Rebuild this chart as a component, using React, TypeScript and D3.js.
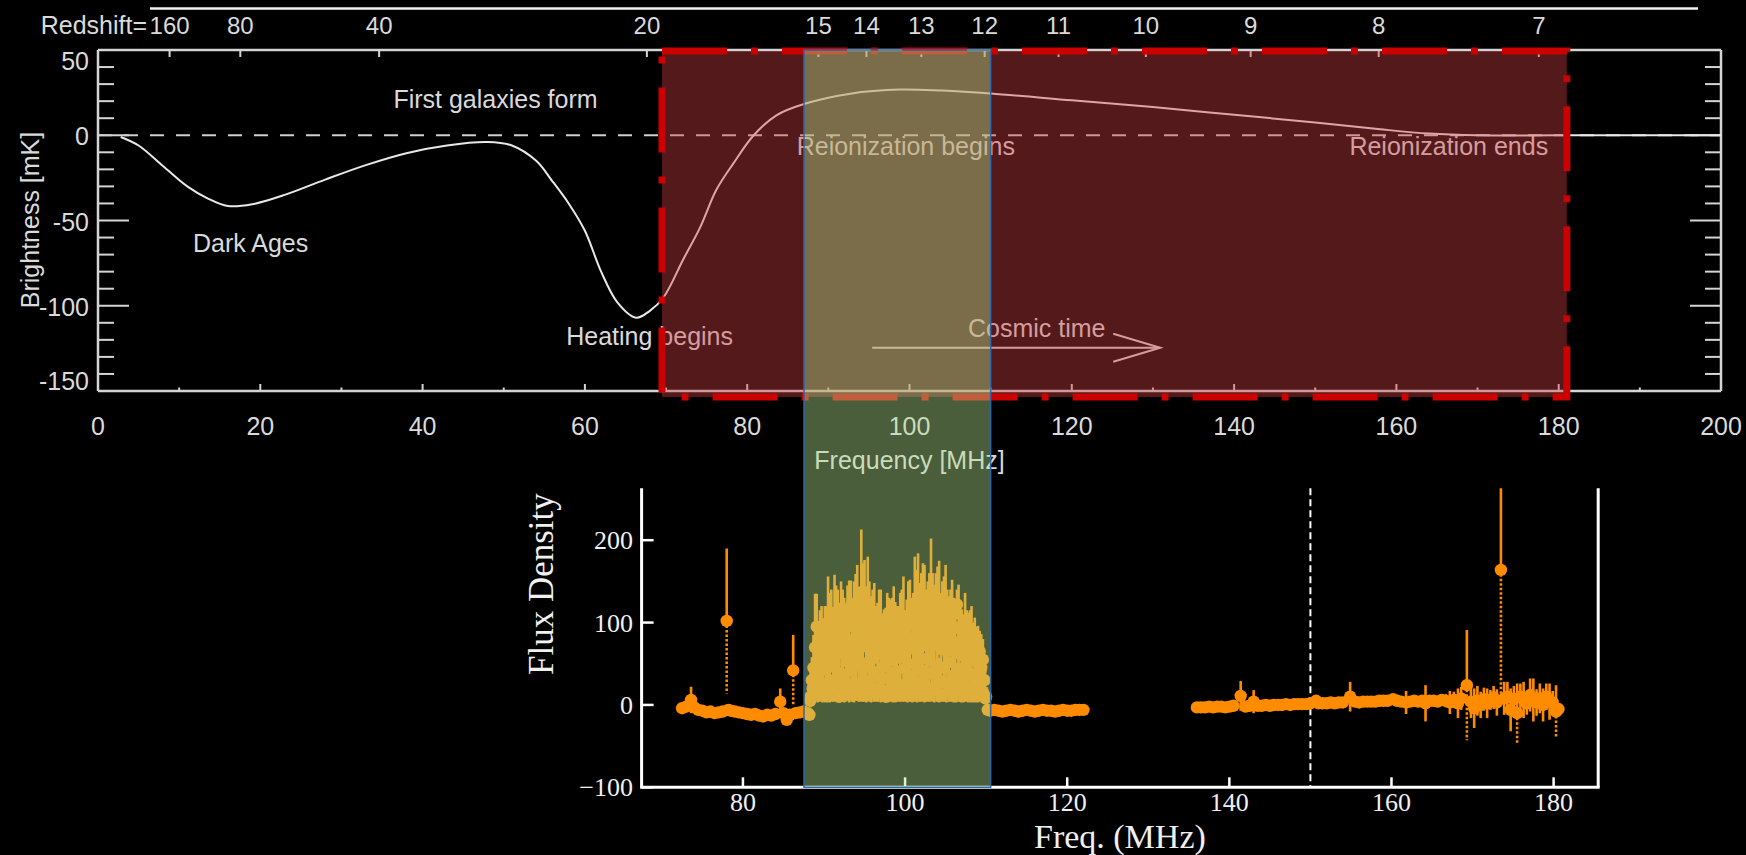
import React from "react";
import * as d3 from "d3";

const W = 1746;
const H = 855;

// ---------- upper panel: global 21-cm signal ----------
const freqTicks = [0, 20, 40, 60, 80, 100, 120, 140, 160, 180, 200];
const freqMinorTicks = [10, 30, 50, 70, 90, 110, 130, 150, 170, 190];
const brightTicks = [50, 0, -50, -100, -150];
const brightMinorTicks = [40, 30, 20, 10, -10, -20, -30, -40, -60, -70, -80, -90, -110, -120, -130, -140];
const redshiftTicks = [160, 80, 40, 20, 15, 14, 13, 12, 11, 10, 9, 8, 7];
const HI_REST_MHZ = 1420.4;

const signalFreq = [2.8, 5, 8, 11, 13.5, 16, 19, 23, 28, 33, 38, 43, 48, 51, 54, 56, 58, 60, 62, 64, 66.3, 68, 69.7, 72.1, 74.2, 76.2, 78.3, 80.8, 83.6, 87.2, 92.7, 98.8, 104, 110, 120, 130, 140, 150, 158, 164, 170, 185, 200];
const signalTemp = [-1, -6, -18, -30, -37, -41.5, -40.5, -35, -26, -17.5, -10.5, -6, -4, -6, -15, -27, -40, -56, -80, -98, -107, -103, -95, -73, -54, -32, -16.5, 0, 11.7, 18.6, 24.4, 26.8, 26.2, 24.5, 20.5, 16.5, 12, 7.5, 3.5, 1, 0, 0, 0];

// annotations in data units (MHz, mK)
const phaseLabels: { text: string; f: number; t: number; anchor: "start" | "end" }[] = [
  { text: "First galaxies form", f: 36.4, t: 15.7, anchor: "start" },
  { text: "Dark Ages", f: 11.7, t: -68.2, anchor: "start" },
  { text: "Heating begins", f: 57.7, t: -123, anchor: "start" },
  { text: "Reionization begins", f: 86.1, t: -11.6, anchor: "start" },
  { text: "Reionization ends", f: 178.7, t: -11.6, anchor: "end" },
  { text: "Cosmic time", f: 107.2, t: -118.3, anchor: "start" },
];
const cosmicArrow = { fFrom: 95.4, fTo: 130.9, t: -124.6 };

// EoR window and FM band
const eorWindow = { fLo: 69.5, fHi: 181, tLo: -153.5, tHi: 49.4 };
const fmBand = { fLo: 87, fHi: 110 };

// ---------- lower panel: measured flux density ----------
const fluxYTicks = [200, 100, 0, -100];
const fluxXTicks = [80, 100, 120, 140, 160, 180];
const refLineMHz = 150;

// [freq MHz, flux, error]
const belowFm: [number, number, number][] = [
  [72.5, -4, 3], [73.0, -2, 4], [73.6, 6, 16], [74.0, -3, 4], [74.5, -6, 3], [75.0, -7, 3], [75.5, -9, 3],
  [76.0, -8, 3], [76.5, -10, 3], [77.0, -9, 4], [77.5, -8, 3], [78.0, 102, 88], [78.2, -6, 3], [78.5, -7, 3],
  [79.0, -8, 3], [79.5, -9, 3], [80.0, -10, 4], [80.5, -11, 3], [81.0, -12, 3], [81.5, -11, 3], [82.0, -13, 4],
  [82.5, -14, 3], [83.0, -12, 4], [83.5, -13, 3], [84.0, -11, 3], [84.6, 4, 16], [85.0, -10, 4], [85.4, -18, 6],
  [85.8, -12, 4], [86.2, 42, 43], [86.5, -10, 4], [87.0, -9, 3], [87.5, -8, 3], [88.0, -10, 3],
];

const inFm: [number, number, number][] = [
  [88.2, -12, 4], [88.35, 10, 12], [88.5, 30, 28], [88.7, 45, 40], [88.9, 70, 65], [89.1, 95, 40], [89.3, 50, 46],
  [89.5, 60, 55], [89.7, 80, 40], [89.9, 55, 50], [90.1, 85, 35], [90.3, 62, 58], [90.5, 100, 56], [90.7, 70, 66],
  [90.9, 90, 50], [91.1, 58, 54], [91.3, 112, 46], [91.5, 75, 70], [91.7, 95, 45], [91.9, 64, 60], [92.1, 105, 45],
  [92.3, 72, 68], [92.5, 88, 42], [92.7, 60, 56], [92.9, 110, 35], [93.1, 78, 73], [93.3, 120, 31], [93.5, 66, 62],
  [93.7, 95, 55], [93.9, 82, 77], [94.1, 125, 45], [94.3, 70, 66], [94.6, 137, 76], [94.8, 88, 84], [95.0, 120, 56],
  [95.2, 74, 70], [95.4, 110, 70], [95.6, 90, 60], [95.8, 68, 64], [96.0, 100, 40], [96.2, 76, 72], [96.4, 85, 35],
  [96.6, 64, 60], [96.8, 105, 35], [97.0, 72, 68], [97.2, 80, 30], [97.4, 60, 56], [97.6, 90, 28], [97.8, 70, 66],
  [98.0, 96, 34], [98.2, 66, 62], [98.4, 100, 30], [98.6, 74, 70], [98.8, 92, 33], [99.0, 62, 58], [99.2, 85, 35],
  [99.4, 70, 66], [99.6, 105, 35], [99.8, 80, 76], [100.0, 88, 27], [100.2, 66, 62], [100.4, 95, 55], [100.6, 78, 74],
  [100.8, 110, 20], [101.0, 70, 66], [101.2, 115, 65], [101.4, 84, 80], [101.6, 120, 64], [101.8, 76, 72],
  [102.0, 105, 55], [102.2, 88, 84], [102.4, 118, 52], [102.6, 72, 68], [102.8, 110, 40], [103.0, 82, 78],
  [103.2, 125, 77], [103.4, 94, 66], [103.6, 75, 71], [103.8, 115, 45], [104.0, 86, 82], [104.2, 118, 57],
  [104.4, 70, 66], [104.6, 105, 45], [104.8, 80, 76], [105.0, 112, 58], [105.2, 90, 50], [105.4, 68, 64],
  [105.6, 100, 40], [105.8, 78, 74], [106.0, 95, 35], [106.2, 64, 60], [106.4, 122, 18], [106.6, 75, 71],
  [106.8, 92, 28], [107.0, 60, 56], [107.2, 85, 25], [107.4, 70, 66], [107.6, 88, 27], [107.8, 58, 54],
  [108.0, 80, 35], [108.2, 62, 58], [108.4, 75, 25], [108.6, 55, 51], [108.8, 70, 25], [109.0, 50, 46],
  [109.2, 65, 25], [109.4, 45, 41], [109.6, 55, 25], [109.8, 30, 28], [110.0, 10, 12], [110.2, -6, 4],
];

// weaker channels inside the FM band
const inFmLow: [number, number, number][] = [
  [88.3, 5, 8], [88.6, 20, 18], [88.9, 35, 30], [89.2, 15, 12], [89.5, 40, 36], [89.8, 25, 22], [90.1, 12, 9],
  [90.4, 45, 42], [90.7, 30, 27], [91.0, 18, 14], [91.3, 50, 46], [91.6, 28, 25], [91.9, 10, 7], [92.2, 38, 34],
  [92.5, 22, 19], [92.8, 55, 50], [93.1, 14, 11], [93.4, 42, 38], [93.7, 26, 23], [94.0, 60, 55], [94.3, 16, 12],
  [94.6, 48, 44], [94.9, 30, 26], [95.2, 12, 9], [95.5, 52, 48], [95.8, 24, 21], [96.1, 40, 36], [96.4, 15, 11],
  [96.7, 35, 31], [97.0, 20, 17], [97.3, 46, 42], [97.6, 10, 7], [97.9, 32, 29], [98.2, 54, 50], [98.5, 18, 15],
  [98.8, 40, 37], [99.1, 26, 22], [99.4, 58, 54], [99.7, 14, 10], [100.0, 44, 40], [100.3, 22, 19], [100.6, 36, 32],
  [100.9, 12, 9], [101.2, 50, 46], [101.5, 28, 25], [101.8, 16, 12], [102.1, 42, 38], [102.4, 24, 21],
  [102.7, 56, 52], [103.0, 14, 10], [103.3, 38, 34], [103.6, 20, 17], [103.9, 48, 44], [104.2, 30, 27],
  [104.5, 12, 8], [104.8, 45, 41], [105.1, 26, 23], [105.4, 52, 48], [105.7, 18, 14], [106.0, 36, 33],
  [106.3, 22, 19], [106.6, 44, 40], [106.9, 14, 11], [107.2, 32, 29], [107.5, 48, 44], [107.8, 20, 17],
  [108.1, 38, 35], [108.4, 12, 9], [108.7, 30, 27], [109.0, 22, 19], [109.3, 40, 36], [109.6, 16, 13], [109.9, 8, 6],
];

const aboveFm: [number, number, number][] = [
  [110.5, -7, 3], [111.0, -6, 3], [111.5, -7, 3], [112.0, -8, 3], [112.5, -7, 3], [113.0, -6, 3], [113.5, -7, 3],
  [114.0, -8, 3], [114.5, -7, 3], [115.0, -6, 3], [115.5, -7, 3], [116.0, -8, 3], [116.5, -7, 3], [117.0, -6, 3],
  [117.5, -7, 3], [118.0, -7, 3], [118.5, -8, 3], [119.0, -7, 3], [119.5, -6, 3], [120.0, -7, 3], [120.5, -7, 3],
  [121.0, -6, 3], [121.5, -6, 3], [122.0, -6, 3],
];

const highBand: [number, number, number][] = [
  [136.0, -3, 3], [136.5, -3, 3], [137.0, -3, 3], [137.5, -2, 3], [138.0, -3, 3], [138.5, -2, 3], [139.0, -2, 3],
  [139.5, -3, 3], [140.0, -2, 3], [140.5, -1, 3], [141.4, 11, 18], [142.0, -2, 3], [142.5, -1, 3], [143.0, 4, 14],
  [143.5, -1, 3], [144.0, -1, 3], [144.5, 0, 3], [145.0, -1, 3], [145.5, 0, 3], [146.0, 0, 3], [146.5, 0, 3],
  [147.0, 1, 3], [147.5, 0, 3], [148.0, 1, 3], [148.5, 1, 3], [149.0, 1, 3], [149.5, 1, 3], [150.0, 2, 3],
  [150.7, 5, 6], [151.0, 2, 3], [151.5, 2, 3], [152.0, 2, 3], [152.5, 3, 3], [153.0, 2, 3], [153.5, 3, 3],
  [154.0, 3, 3], [154.9, 10, 18], [155.5, 4, 4], [156.0, 3, 3], [156.5, 4, 3], [157.0, 4, 3], [157.5, 4, 3],
  [158.0, 4, 3], [158.5, 5, 3], [159.0, 5, 3], [159.5, 5, 4], [160.2, 7, 4], [160.7, 5, 3], [161.2, 4, 4],
  [161.8, 3, 14], [162.3, 4, 3], [162.8, 5, 4], [163.3, 4, 3], [163.8, 5, 4], [164.2, 2, 22], [164.7, 5, 4],
  [165.2, 5, 5], [165.7, 4, 4], [166.2, 6, 6], [166.7, 5, 8], [167.2, 3, 14], [167.7, 6, 10], [168.2, 2, 18],
  [168.6, 8, 14], [169.3, 24, 67], [169.8, 4, 20], [170.2, -4, 24], [170.6, 5, 18], [171.0, 0, 16],
  [171.4, 7, 14], [171.8, 2, 18], [172.2, 6, 12], [172.6, 9, 14], [173.0, 3, 16], [173.5, 164, 158],
  [173.9, 8, 20], [174.3, 10, 18], [174.7, -6, 26], [175.1, 7, 16], [175.5, -10, 36], [175.9, 10, 16],
  [176.3, 6, 22], [176.7, 2, 14], [177.1, 12, 20], [177.5, 6, 26], [177.9, 3, 16], [178.3, 8, 18],
  [178.7, 0, 20], [179.1, 10, 16], [179.5, 4, 22], [179.9, 3, 14], [180.3, -8, 32], [180.6, -5, 5],
];

const SANS = "'Liberation Sans', Arial, Helvetica, sans-serif";
const SERIF = "'Liberation Serif', 'Times New Roman', serif";
const TEXT_GREY = "#dadada";
const AXIS_GREY = "#d4d4d4";
const ORANGE = "#ff8c00";

export default function App() {
  // upper panel scales
  const xT = d3.scaleLinear().domain([0, 200]).range([98, 1721]);
  const yT = d3.scaleLinear().domain([-150, 50]).range([391, 50]);
  // lower panel scales
  const xB = d3.scaleLinear().domain([67.5, 185.5]).range([641.6, 1598.2]);
  const yB = d3.scaleLinear().domain([-100, 263]).range([787.3, 488.3]);

  const signalPts = signalFreq.map((f, i) => [f, signalTemp[i]] as [number, number]);
  const signalPath = d3
    .line<[number, number]>()
    .x((d) => xT(d[0]))
    .y((d) => yT(d[1]))
    .curve(d3.curveCatmullRom.alpha(0.5))(signalPts) as string;

  const [tx0, tx1] = xT.range();
  const [ty0, ty1] = [yT(50), yT(-150)];
  const majLen = 31;
  const minLen = 16;

  const yLabelBaseline = (v: number) =>
    Math.min(Math.max(yT(v) + 10, yT(50) + 20), yT(-150) - 1);

  const arrowY = yT(cosmicArrow.t);
  const arrowX1 = xT(cosmicArrow.fTo);

  const bx0 = xB(67.5);
  const bx1 = xB(185.5);
  const by0 = yB(263);
  const by1 = yB(-100);

  const segments: { pts: [number, number, number][]; dashedLow: boolean }[] = [
    { pts: belowFm, dashedLow: true },
    { pts: inFm, dashedLow: false },
    { pts: inFmLow, dashedLow: false },
    { pts: aboveFm, dashedLow: true },
    { pts: highBand, dashedLow: true },
  ];

  return (
    <svg
      width={W}
      height={H}
      viewBox={`0 0 ${W} ${H}`}
      style={{ position: "absolute", left: 0, top: 0, display: "block" }}
    >
      <defs>
        <clipPath id="fluxClip">
          <rect x={bx0} y={by0} width={bx1 - bx0} height={by1 - by0} />
        </clipPath>
      </defs>
      <rect x={0} y={0} width={W} height={H} fill="#000" />

      {/* strip above the redshift axis */}
      <line x1={150} x2={1698} y1={8.5} y2={8.5} stroke="#f2f2f2" strokeWidth={2.5} />

      {/* ---------------- upper panel ---------------- */}
      <g stroke={AXIS_GREY} strokeWidth={2.5} fill="none">
        <line x1={tx0} x2={tx1} y1={ty0} y2={ty0} />
        <line x1={tx0} x2={tx1} y1={ty1} y2={ty1} />
        <line x1={tx0} x2={tx0} y1={ty0} y2={ty1} />
        <line x1={tx1} x2={tx1} y1={ty0} y2={ty1} />
      </g>
      <g stroke={AXIS_GREY} strokeWidth={2}>
        {brightTicks.map((v) => (
          <g key={`yt${v}`}>
            <line x1={tx0} x2={tx0 + majLen} y1={yT(v)} y2={yT(v)} />
            <line x1={tx1} x2={tx1 - majLen} y1={yT(v)} y2={yT(v)} />
          </g>
        ))}
        {brightMinorTicks.map((v) => (
          <g key={`ym${v}`}>
            <line x1={tx0} x2={tx0 + minLen} y1={yT(v)} y2={yT(v)} />
            <line x1={tx1} x2={tx1 - minLen} y1={yT(v)} y2={yT(v)} />
          </g>
        ))}
        {freqTicks.map((f) => (
          <line key={`xt${f}`} x1={xT(f)} x2={xT(f)} y1={ty1} y2={ty1 - 7} />
        ))}
        {freqMinorTicks.map((f) => (
          <line key={`xm${f}`} x1={xT(f)} x2={xT(f)} y1={ty1} y2={ty1 - 3.5} />
        ))}
        {redshiftTicks.map((z) => (
          <line
            key={`zt${z}`}
            x1={xT(HI_REST_MHZ / (1 + z))}
            x2={xT(HI_REST_MHZ / (1 + z))}
            y1={ty0}
            y2={ty0 + 7}
          />
        ))}
      </g>

      <g fill={TEXT_GREY} fontFamily={SANS} fontSize={25}>
        {brightTicks.map((v) => (
          <text key={`yl${v}`} x={89} y={yLabelBaseline(v)} textAnchor="end">
            {String(v)}
          </text>
        ))}
        {freqTicks.map((f) => (
          <text key={`xl${f}`} x={xT(f)} y={435} textAnchor="middle">
            {String(f)}
          </text>
        ))}
        {redshiftTicks.map((z) => (
          <text key={`zl${z}`} x={xT(HI_REST_MHZ / (1 + z))} y={33.5} textAnchor="middle" fontSize={24}>
            {String(z)}
          </text>
        ))}
        <text x={147} y={33.5} textAnchor="end" fontSize={25}>
          Redshift=
        </text>
        <text x={xT(100)} y={468.5} textAnchor="middle">
          Frequency [MHz]
        </text>
        <text transform={`translate(39, 220) rotate(-90)`} textAnchor="middle" fontSize={25}>
          Brightness [mK]
        </text>
        {phaseLabels.map((p) => (
          <text key={p.text} x={xT(p.f)} y={yT(p.t)} textAnchor={p.anchor}>
            {p.text}
          </text>
        ))}
      </g>

      {/* zero-brightness reference */}
      <line
        x1={tx0}
        x2={tx1}
        y1={yT(0)}
        y2={yT(0)}
        stroke="#cfcfcf"
        strokeWidth={2.2}
        strokeDasharray="14 12"
      />
      {/* global signal */}
      <path d={signalPath} fill="none" stroke="#e8e8e8" strokeWidth={2} />

      {/* cosmic time arrow */}
      <g stroke={TEXT_GREY} strokeWidth={2} fill="none">
        <line x1={xT(cosmicArrow.fFrom)} x2={arrowX1} y1={arrowY} y2={arrowY} />
        <polyline points={`${arrowX1 - 47},${arrowY - 14} ${arrowX1},${arrowY} ${arrowX1 - 47},${arrowY + 14}`} />
      </g>

      {/* epoch-of-reionization window */}
      <rect
        x={xT(eorWindow.fLo)}
        y={yT(eorWindow.tHi)}
        width={xT(eorWindow.fHi) - xT(eorWindow.fLo)}
        height={yT(eorWindow.tLo) - yT(eorWindow.tHi)}
        fill="rgba(210,62,68,0.4)"
        stroke="#cc0000"
        strokeWidth={7}
        strokeDasharray="65 24 7 24"
      />

      {/* ---------------- lower panel ---------------- */}
      <g stroke="#fff" strokeWidth={3} fill="none">
        <line x1={bx0} x2={bx0} y1={by0} y2={by1} />
        <line x1={bx0 - 1.5} x2={bx1 + 1.5} y1={by1} y2={by1} />
        <line x1={bx1} x2={bx1} y1={by0} y2={by1} />
      </g>
      <g stroke="#fff" strokeWidth={2.5}>
        {fluxYTicks.map((v) => (
          <line key={`fy${v}`} x1={bx0} x2={bx0 + 12} y1={yB(v)} y2={yB(v)} />
        ))}
        {fluxXTicks.map((f) => (
          <line key={`fx${f}`} x1={xB(f)} x2={xB(f)} y1={by1} y2={by1 - 10} />
        ))}
      </g>
      <g fill="#f0f0f0" fontFamily={SERIF} fontSize={26}>
        {fluxYTicks.map((v) => (
          <text key={`fyl${v}`} x={633} y={yB(v) + 9} textAnchor="end">
            {v < 0 ? `\u2212${Math.abs(v)}` : String(v)}
          </text>
        ))}
        {fluxXTicks.map((f) => (
          <text key={`fxl${f}`} x={xB(f)} y={811} textAnchor="middle">
            {String(f)}
          </text>
        ))}
        <text x={(bx0 + bx1) / 2} y={847.5} textAnchor="middle" fontSize={34}>
          Freq. (MHz)
        </text>
        <text transform={`translate(553, 675) rotate(-90)`} textAnchor="start" fontSize={35}>
          Flux Density
        </text>
      </g>

      <line
        x1={xB(refLineMHz)}
        x2={xB(refLineMHz)}
        y1={by0}
        y2={by1}
        stroke="#fff"
        strokeWidth={2}
        strokeDasharray="7 4"
      />

      <g clipPath="url(#fluxClip)">
        {segments.map((seg, si) => (
          <g key={`seg${si}`} stroke={ORANGE} strokeWidth={2.6}>
            {seg.pts.map(([f, v, e], i) => (
              <g key={`e${si}-${i}`}>
                <line x1={xB(f)} x2={xB(f)} y1={yB(v)} y2={yB(v + e)} />
                <line
                  x1={xB(f)}
                  x2={xB(f)}
                  y1={yB(v)}
                  y2={yB(v - e)}
                  strokeDasharray={seg.dashedLow && e > 30 ? "2.5 2" : undefined}
                />
              </g>
            ))}
          </g>
        ))}
        {segments.map((seg, si) => (
          <g key={`mk${si}`} fill={ORANGE}>
            {seg.pts.map(([f, v], i) => (
              <circle key={`m${si}-${i}`} cx={xB(f)} cy={yB(v)} r={6.2} />
            ))}
          </g>
        ))}
      </g>

      {/* FM band overlay across both panels */}
      <rect
        x={xT(fmBand.fLo)}
        y={yT(50)}
        width={xT(fmBand.fHi) - xT(fmBand.fLo)}
        height={by1 - yT(50)}
        fill="rgba(179,224,140,0.42)"
        stroke="#2d65a6"
        strokeWidth={1.5}
      />
    </svg>
  );
}
